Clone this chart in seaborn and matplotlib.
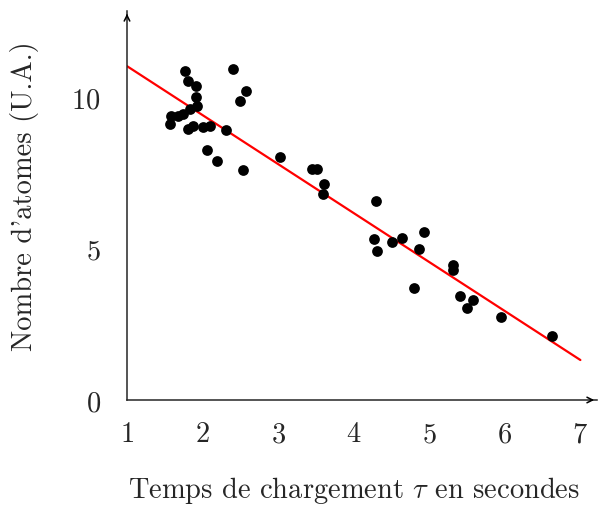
import numpy as np
import pandas as pd
import matplotlib
matplotlib.use("Agg")
import matplotlib.pyplot as plt
import seaborn as sns

# points
temps = [1.77, 2.40, 1.81, 1.91, 2.58, 2.50, 1.91, 1.93, 1.83, 1.74, 1.58, 1.67,
         1.57, 1.81, 1.87, 2.01, 2.10, 2.31, 2.06, 2.19, 2.54, 3.03, 3.45, 3.52,
         3.61, 3.60, 4.30, 4.27, 4.31, 4.51, 4.64, 4.93, 4.87, 4.80, 5.32, 5.32,
         5.41, 5.58, 5.50, 5.95, 6.62]
atomes = [10.86, 10.92, 10.53, 10.36, 10.20, 9.87, 10.00, 9.70, 9.60, 9.44, 9.37, 9.36,
          9.11, 8.94, 9.04, 9.01, 9.04, 8.91, 8.25, 7.89, 7.59, 8.02, 7.62, 7.62,
          7.13, 6.80, 6.57, 5.31, 4.92, 5.21, 5.35, 5.54, 4.98, 3.70, 4.46, 4.29,
          3.43, 3.30, 3.04, 2.74, 2.11]

# droite d'ajustement
fit_x = [1.0, 7.0]
fit_y = [11.02, 1.32]

df = pd.DataFrame({"t": temps, "n": atomes})
fit = pd.DataFrame({"t": fit_x, "n": fit_y})

sns.set_style("white")
plt.rcParams["font.family"] = ["cmr10", "DejaVu Serif"]
plt.rcParams["mathtext.fontset"] = "cm"
plt.rcParams["axes.formatter.use_mathtext"] = True

fig = plt.figure(figsize=(5.98, 5.06), dpi=100)
ax = fig.add_axes([127 / 598, 105 / 506, 470 / 598, 389 / 506])

sns.scatterplot(data=df, x="t", y="n", color="black", s=60, edgecolor="black",
                linewidth=0, ax=ax, zorder=3)
sns.lineplot(data=fit, x="t", y="n", color="red", linewidth=1.6, ax=ax, zorder=2)

ax.set_xlim(1, 7.22)
ax.set_ylim(0, 12.84)
ax.set_xticks([1, 2, 3, 4, 5, 6, 7])
ax.set_yticks([0, 5, 10])
ax.tick_params(direction="inout", length=10, width=1.1, labelsize=20.5)
ax.tick_params(axis="x", pad=10)
ax.tick_params(axis="y", pad=14)

for s in ["top", "right"]:
    ax.spines[s].set_visible(False)
for s in ["left", "bottom"]:
    ax.spines[s].set_linewidth(1.1)

# fleches des axes
ax.annotate("", xy=(1.0, 0), xytext=(0.98, 0), xycoords="axes fraction",
            arrowprops=dict(arrowstyle="->", lw=1.1, color="black"))
ax.annotate("", xy=(0, 1.0), xytext=(0, 0.98), xycoords="axes fraction",
            arrowprops=dict(arrowstyle="->", lw=1.1, color="black"))

ax.set_xlabel(r"Temps de chargement $\tau$ en secondes", fontsize=20.5, labelpad=19, x=0.482)
ax.set_ylabel("Nombre d'atomes (U.A.)", fontsize=20.5, labelpad=23, y=0.527)

fig.savefig("out.png", dpi=100)
